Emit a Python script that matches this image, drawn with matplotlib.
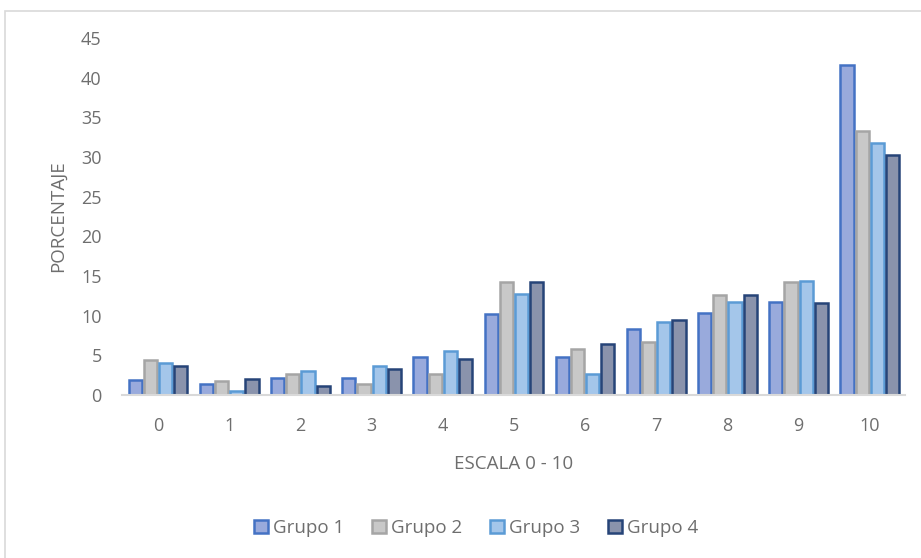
import numpy as np
import matplotlib.pyplot as plt
from matplotlib.patches import Rectangle

plt.rcParams['font.family'] = ['Open Sans', 'DejaVu Sans']

categorias = ['0', '1', '2', '3', '4', '5', '6', '7', '8', '9', '10']
grupo1 = [1.9, 1.4, 2.2, 2.2, 4.8, 10.2, 4.8, 8.3, 10.4, 11.7, 41.6]
grupo2 = [4.4, 1.8, 2.6, 1.4, 2.6, 14.2, 5.8, 6.7, 12.6, 14.2, 33.3]
grupo3 = [4.1, 0.5, 3.0, 3.7, 5.5, 12.7, 2.6, 9.2, 11.7, 14.4, 31.8]
grupo4 = [3.7, 2.0, 1.2, 3.3, 4.5, 14.2, 6.4, 9.5, 12.6, 11.6, 30.2]
series = [('Grupo 1', grupo1), ('Grupo 2', grupo2), ('Grupo 3', grupo3), ('Grupo 4', grupo4)]

fills = ['#99AADC', '#C8C8C8', '#A4C6EA', '#8A93AC']
edges = ['#4472C4', '#A5A5A5', '#5B9BD5', '#264478']
gris = '#6E6E6E'

fig = plt.figure(figsize=(9.21, 5.58), dpi=100)
# chart border
fig.patches.append(Rectangle((5 / 921, -0.01), 1.0, 1 - 11 / 558 + 0.01, transform=fig.transFigure,
                             fill=False, edgecolor='#D9D9D9', linewidth=1.2))

ax = fig.add_axes([0.133, 0.292, 0.850, 0.640])
x = np.arange(len(categorias))
paso = 0.213
for i, (nombre, vals) in enumerate(series):
    ax.bar(x + (i - 1.5) * paso, vals, width=0.185, color=fills[i], edgecolor=edges[i],
           linewidth=1.8, label=nombre, zorder=2)

ax.set_xlim(-0.5, 10.5)
ax.set_ylim(0, 45)
ax.set_yticks(range(0, 46, 5))
ax.set_xticks(x)
ax.set_xticklabels(categorias)
for s in ['top', 'right', 'left']:
    ax.spines[s].set_visible(False)
ax.spines['bottom'].set_color('#D9D9D9')
ax.spines['bottom'].set_linewidth(1.5)
ax.spines['bottom'].set_zorder(3)
ax.tick_params(axis='both', length=0, labelsize=13, colors=gris)
ax.tick_params(axis='y', pad=15)
ax.tick_params(axis='x', pad=16)

ax.set_ylabel('PORCENTAJE', fontsize=13.5, color=gris, labelpad=10)
ax.set_xlabel('ESCALA 0 - 10', fontsize=13.5, color=gris, labelpad=14)

ax.legend(loc='center', bbox_to_anchor=(476 / 921, 1 - 528 / 558), bbox_transform=fig.transFigure,
          ncol=4, frameon=False, fontsize=13.5, labelcolor=gris, handlelength=0.75, handleheight=0.75,
          handletextpad=0.25, columnspacing=1.5)

fig.savefig('out.png', dpi=100)
